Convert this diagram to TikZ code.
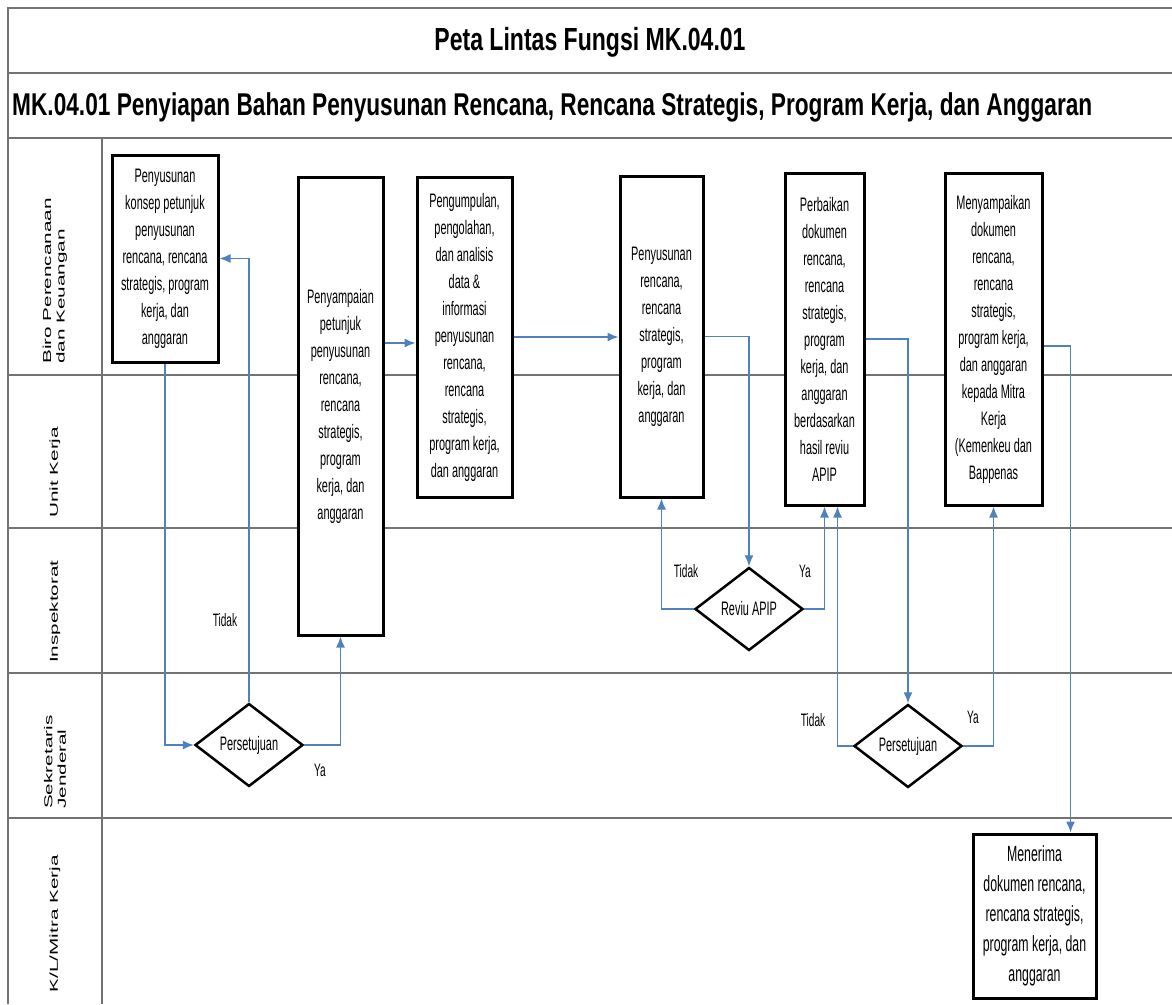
\documentclass[tikz,border=0pt]{standalone}
\usepackage{fontspec}
\setmainfont{Liberation Sans}
\newfontfamily\boxfont{Liberation Sans}[FakeStretch=0.56]
\newfontfamily\titlefont{Liberation Sans}[FakeStretch=0.72]
\newfontfamily\lanefont{Liberation Sans}[FakeStretch=1.8]
\definecolor{colorFlow}{RGB}{79,129,189}
\colorlet{colorLane}{black!55}
\usetikzlibrary{arrows.meta, shapes.geometric}
\tikzset{
  activity/.style={draw, fill=white, line width=3pt, align=center, inner sep=2pt, font=\boxfont\fontsize{19.5}{27}\selectfont},
  decision/.style={draw, fill=white, diamond, line width=2.5pt, aspect=1.3, minimum width=108pt, minimum height=83pt, inner sep=1pt, font=\boxfont\fontsize{19.5}{27}\selectfont},
  answer/.style={font=\boxfont\fontsize{18}{20}\selectfont},
  lane/.style={rotate=90, align=left, inner sep=0pt, font=\lanefont\fontsize{11.5}{13.5}\selectfont},
  flow/.style={->, colorFlow, line width=1.3pt},
  border/.style={colorLane, line width=2.5pt}
}

\begin{document}
\begin{tikzpicture}[x=1pt, y=-1pt, >={Latex[length=11pt, width=9pt]}]
\useasboundingbox (0,0) rectangle (1172,1004);
% frame and lanes
\draw[border] (8,1004) -- (8,8) -- (1172,8);
\foreach \y in {73,138,375,528,673,818} \draw[border] (8,\y) -- (1172,\y);
\draw[border] (102,138) -- (102,1004);
\node[anchor=center] (title) at (590,42) {\titlefont\bfseries\fontsize{32}{36}\selectfont Peta Lintas Fungsi MK.04.01};
\node[anchor=west, inner sep=0pt] (subtitle) at (12,107) {\titlefont\bfseries\fontsize{31.5}{36}\selectfont MK.04.01 Penyiapan Bahan Penyusunan Rencana, Rencana Strategis, Program Kerja, dan Anggaran};
\node[lane, anchor=west] (laneBiro) at (55,364) {Biro Perencanaan\\dan Keuangan};
\node[lane, anchor=west] (laneUnit) at (55,518) {Unit Kerja};
\node[lane, anchor=west] (laneInsp) at (55,663) {Inspektorat};
\node[lane, anchor=west] (laneSekjen) at (55,809) {Sekretaris\\Jenderal};
\node[lane, anchor=east] (laneMitra) at (55,855) {K/L/Mitra Kerja};
% activities
\node[activity, minimum width=106pt, minimum height=207pt] (b1) at (165,258.5) {Penyusunan\\konsep petunjuk\\penyusunan\\rencana, rencana\\strategis, program\\kerja, dan\\anggaran};
\node[activity, minimum width=85pt, minimum height=458pt] (b2) at (340.5,406) {Penyampaian\\petunjuk\\penyusunan\\rencana,\\rencana\\strategis,\\program\\kerja, dan\\anggaran};
\node[activity, minimum width=95pt, minimum height=320pt] (b3) at (464.5,337) {Pengumpulan,\\pengolahan,\\dan analisis\\data \&\\informasi\\penyusunan\\rencana,\\rencana\\strategis,\\program kerja,\\dan anggaran};
\node[activity, minimum width=83pt, minimum height=321pt] (b4) at (661.5,336.5) {Penyusunan\\rencana,\\rencana\\strategis,\\program\\kerja, dan\\anggaran};
\node[activity, minimum width=79pt, minimum height=332pt] (b5) at (824.5,339) {Perbaikan\\dokumen\\rencana,\\rencana\\strategis,\\program\\kerja, dan\\anggaran\\berdasarkan\\hasil reviu\\APIP};
\node[activity, minimum width=97pt, minimum height=332pt] (b6) at (993.5,339) {Menyampaikan\\dokumen\\rencana,\\rencana\\strategis,\\program kerja,\\dan anggaran\\kepada Mitra\\Kerja\\(Kemenkeu dan\\Bappenas};
\node[activity, minimum width=123pt, minimum height=164pt, font=\boxfont\fontsize{22}{30}\selectfont] (b7) at (1034.5,916) {Menerima\\dokumen rencana,\\rencana strategis,\\program kerja, dan\\anggaran};
% decisions
\node[decision] (d1) at (249,745) {Persetujuan};
\node[decision] (d2) at (749,609) {Reviu APIP};
\node[decision] (d3) at (908,746) {Persetujuan};
% flows
\coordinate (in3) at ([yshift=-6pt]b3.west);
\coordinate (in5) at ([xshift=13pt]b5.south);
\coordinate (out6) at ([yshift=-7pt]b6.east);
\coordinate (in7) at ([xshift=36pt]b7.north);
\draw[flow] (b1.south) |- (d1.west);
\draw[flow] (d1.north) |- (b1.east);
\draw[flow] (d1.east) -| (b2.south);
\draw[flow] (in3 -| b2.east) -- (in3);
\draw[flow] (b3.east) -- (b3.east -| b4.west);
\draw[flow] (b4.east) -| (d2.north);
\draw[flow] (d2.west) -| (b4.south);
\draw[flow] (d2.east) -| (b5.south);
\draw[flow] (b5.east) -| (d3.north);
\draw[flow] (d3.west) -| (in5);
\draw[flow] (d3.east) -| (b6.south);
\draw[flow] (out6) -| (in7);
% answers
\node[answer] (tidak1) at (225,620) {Tidak};
\node[answer] (ya1) at (320,770) {Ya};
\node[answer] (tidak2) at (686,571) {Tidak};
\node[answer] (ya2) at (805,571) {Ya};
\node[answer] (tidak3) at (813,720) {Tidak};
\node[answer] (ya3) at (973,717) {Ya};
\end{tikzpicture}
\end{document}
